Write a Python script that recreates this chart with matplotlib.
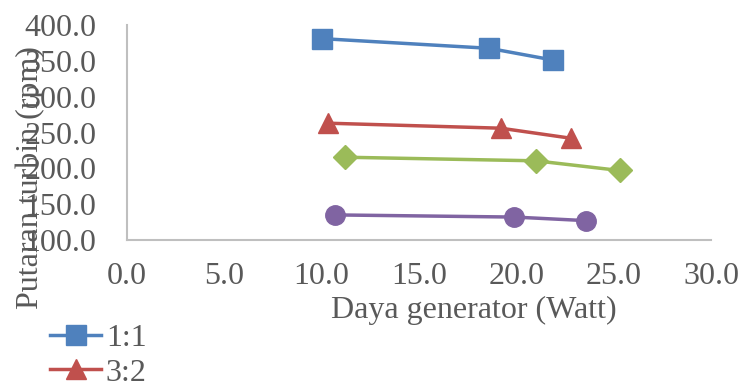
import matplotlib
matplotlib.use("Agg")
import matplotlib.pyplot as plt

# data
x_11 = [10.0, 18.6, 21.9]
y_11 = [381.0, 367.5, 351.0]
x_32 = [10.3, 19.2, 22.8]
y_32 = [263.0, 256.0, 242.0]
x_g = [11.2, 21.0, 25.3]
y_g = [215.5, 210.5, 197.0]
x_p = [10.7, 19.9, 23.6]
y_p = [135.0, 132.0, 127.0]

x_ticks = [0, 5, 10, 15, 20, 25, 30]
y_ticks = [100, 150, 200, 250, 300, 350, 400]

plt.rcParams['font.family'] = ['Liberation Serif', 'DejaVu Serif']
text_col = '#595959'
axis_col = '#BFBFBF'
fs = 23

fig = plt.figure(figsize=(7.45, 3.85), dpi=100)
ax = fig.add_axes([127 / 745, 1 - 240 / 385, (711 - 127) / 745, (240 - 25) / 385])

# one line per ratio
h1, = ax.plot(x_11, y_11, color='#4F81BD', lw=2.5, marker='s', ms=14, label='1:1')
h2, = ax.plot(x_32, y_32, color='#C0504D', lw=2.5, marker='^', ms=15, label='3:2')
ax.plot(x_g, y_g, color='#9BBB59', lw=2.5, marker='D', ms=12)
ax.plot(x_p, y_p, color='#8064A2', lw=2.5, marker='o', ms=14)

ax.set_xlim(0, 30)
ax.set_ylim(100, 400)
ax.set_xticks(x_ticks)
ax.set_yticks(y_ticks)
ax.set_xticklabels([f'{v:.1f}' for v in x_ticks])
ax.set_yticklabels([f'{v:.1f}' for v in y_ticks])
ax.tick_params(length=0, labelsize=fs, colors=text_col)
ax.tick_params(axis='x', pad=16)
ax.tick_params(axis='y', pad=22)

for side in ['top', 'right']:
    ax.spines[side].set_visible(False)
for side in ['left', 'bottom']:
    ax.spines[side].set_color(axis_col)
    ax.spines[side].set_linewidth(1.5)
    ax.spines[side].set_clip_on(False)

# axis titles sit where the reference puts them
fig.text(474 / 745, 1 - 310 / 385, 'Daya generator (Watt)', fontsize=fs,
         color=text_col, ha='center', va='center')
fig.text(30 / 745, 1 - 178 / 385, 'Putaran turbin (rpm)', rotation=90,
         fontsize=fs, color=text_col, ha='center', va='center')

# legend hangs off the bottom of the figure
fig.legend(handles=[h1, h2], loc='upper left', bbox_to_anchor=(50 / 745, 1 - 324 / 385),
           frameon=False, fontsize=fs, labelcolor=text_col, handlelength=1.6,
           handletextpad=0.15, labelspacing=0.15, borderpad=0, borderaxespad=0)

fig.savefig('out.png', dpi=100)
